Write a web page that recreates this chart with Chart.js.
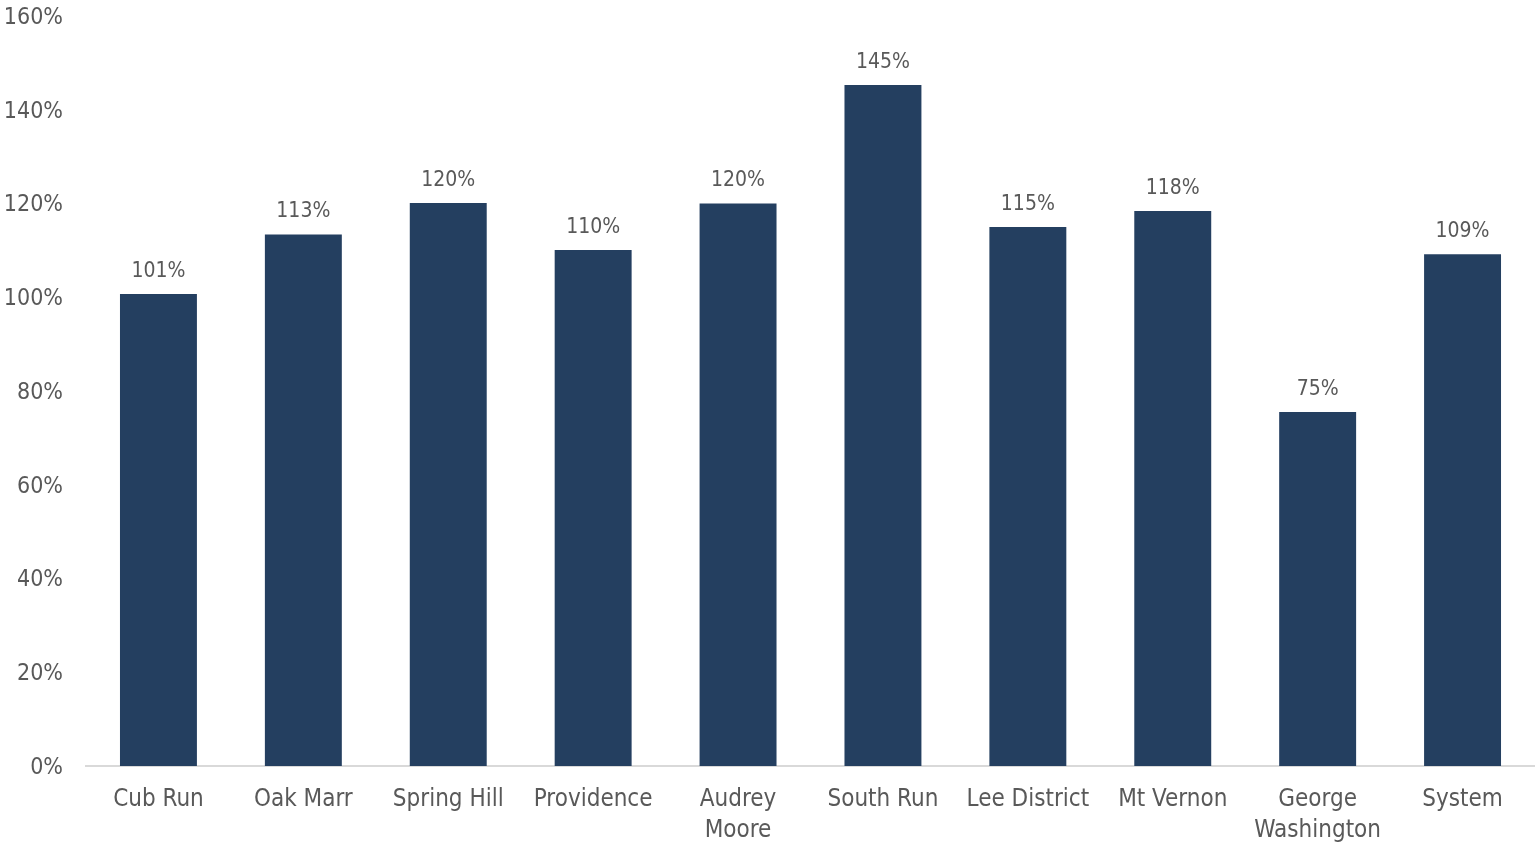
<!DOCTYPE html>
<html>
<head>
<meta charset="utf-8">
<script src="https://cdn.jsdelivr.net/npm/chart.js@4/dist/chart.umd.min.js"></script>
<style>
html,body{margin:0;padding:0;background:#fff;}
#wrap{position:relative;width:1535px;height:845px;}
</style>
</head>
<body>
<div id="wrap"><canvas id="c"></canvas></div>
<script>
const categories = [["Cub Run"],["Oak Marr"],["Spring Hill"],["Providence"],["Audrey","Moore"],["South Run"],["Lee District"],["Mt Vernon"],["George","Washington"],["System"]];
const values = [100.7, 113.4, 120.1, 110.1, 120.0, 145.3, 115.0, 118.4, 75.5, 109.2];
const valueLabels = ["101%","113%","120%","110%","120%","145%","115%","118%","75%","109%"];
const yMin = 0, yMax = 160, yStep = 20;

const FONT = '"Liberation Sans Narrow","Arial Narrow","DejaVu Sans Condensed",sans-serif';
const TEXT = '#595959';
const BAR = '#243F60';

const labelPlugin = {
  id: 'valueLabels',
  afterDatasetsDraw(chart) {
    const ctx = chart.ctx;
    const meta = chart.getDatasetMeta(0);
    ctx.save();
    ctx.font = '21px ' + FONT;
    ctx.fillStyle = TEXT;
    ctx.textAlign = 'center';
    ctx.textBaseline = 'bottom';
    meta.data.forEach((bar, i) => {
      ctx.fillText(valueLabels[i], bar.x, bar.y - 12);
    });
    ctx.restore();
  }
};

new Chart(document.getElementById('c'), {
  type: 'bar',
  data: {
    labels: categories,
    datasets: [{
      data: values,
      backgroundColor: BAR,
      borderWidth: 0,
      barPercentage: 0.531,
      categoryPercentage: 1.0
    }]
  },
  options: {
    responsive: true,
    maintainAspectRatio: false,
    animation: false,
    layout: { padding: 0 },
    plugins: { legend: { display: false }, tooltip: { enabled: false } },
    scales: {
      x: {
        grid: { display: false, drawTicks: false },
        border: { display: true, color: '#D9D9D9', width: 2 },
        ticks: { color: TEXT, font: { family: FONT, size: 24, lineHeight: 1.3 }, padding: 18, maxRotation: 0, autoSkip: false },
        afterFit(scale) { scale.height = 79; }
      },
      y: {
        min: yMin, max: yMax,
        grid: { display: false, drawTicks: false },
        border: { display: false },
        ticks: {
          stepSize: yStep,
          color: TEXT,
          font: { family: FONT, size: 23 },
          padding: 23,
          labelOffset: 2,
          callback: v => v + '%'
        },
        afterFit(scale) { scale.width = 86; scale.paddingTop = 16; scale.paddingBottom = 0; }
      }
    }
  },
  plugins: [labelPlugin]
});
</script>
</body>
</html>
